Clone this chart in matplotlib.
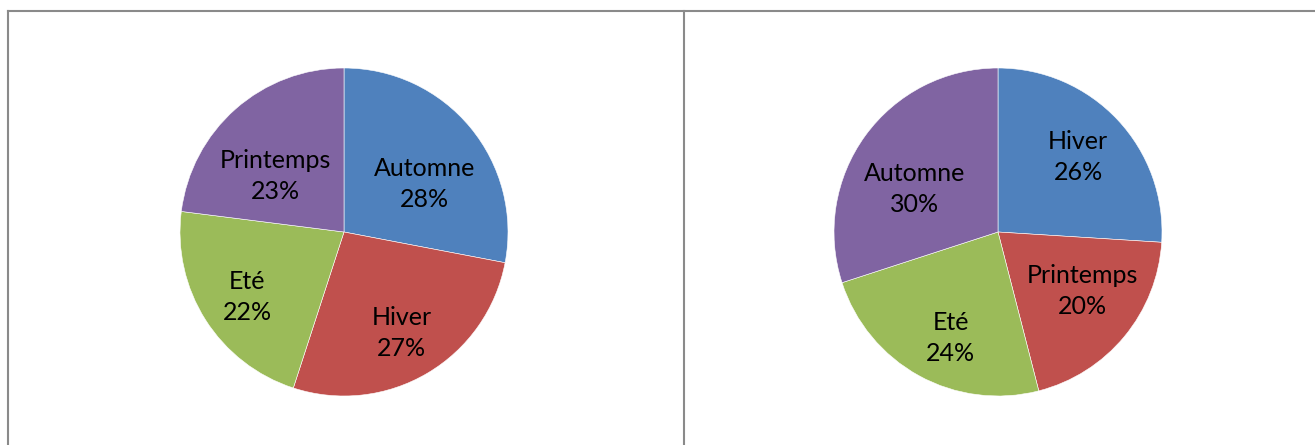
import numpy as np
import matplotlib
matplotlib.use("Agg")
import matplotlib.pyplot as plt
from matplotlib.lines import Line2D

plt.rcParams['font.family'] = ['Lato', 'DejaVu Sans']

# data
left_labels = ["Automne", "Hiver", "Eté", "Printemps"]
left_values = [28, 27, 22, 23]
right_labels = ["Hiver", "Printemps", "Eté", "Automne"]
right_values = [26, 20, 24, 30]
colors = ["#4F81BD", "#C0504D", "#9BBB59", "#8064A2"]

# label placement (fraction of radius, angle shift from slice middle)
left_lab_r = [0.57, 0.71, 0.71, 0.54]
left_lab_da = [-8.6, -1.0, 1.6, 9.6]
right_lab_r = [0.67, 0.63, 0.71, 0.57]
right_lab_da = [0.0, 4.8, 4.8, 8.6]

W, H = 1315, 445
fig = plt.figure(figsize=(W / 100, H / 100), dpi=100)


def draw_pie(cx, cy, r, values, labels, lab_r, lab_da):
    ax = fig.add_axes([(cx - r) / W, (H - cy - r) / H, 2 * r / W, 2 * r / H])
    wedges, _ = ax.pie(values, colors=colors, startangle=90, counterclock=False,
                       wedgeprops=dict(edgecolor="white", linewidth=0.4))
    total = sum(values)
    for w, lab, v, rr, da in zip(wedges, labels, values, lab_r, lab_da):
        mid = np.deg2rad((w.theta1 + w.theta2) / 2 + da)
        ax.text(rr * np.cos(mid), rr * np.sin(mid),
                f"{lab}\n{round(100 * v / total)}%",
                ha="center", va="center", fontsize=18, color="black",
                linespacing=1.43)
    ax.set_xlim(-1, 1)
    ax.set_ylim(-1, 1)
    ax.set_aspect("equal")
    ax.axis("off")


draw_pie(344, 232, 164, left_values, left_labels, left_lab_r, left_lab_da)
draw_pie(998, 232, 164, right_values, right_labels, right_lab_r, right_lab_da)

# panel borders
bc = "#8a8a8a"
for xs, ys in [([7.5, W], [10.5, 10.5]), ([7.5, 7.5], [10.5, H]),
               ([684, 684], [10.5, H])]:
    fig.add_artist(Line2D([x / W for x in xs], [1 - y / H for y in ys],
                          color=bc, linewidth=1.5, transform=fig.transFigure))

fig.savefig("out.png", dpi=100, facecolor="white")
